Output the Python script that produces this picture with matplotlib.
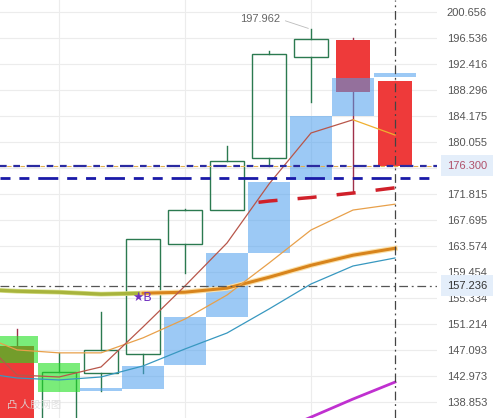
import numpy as np
import matplotlib
matplotlib.use("Agg")
import matplotlib.pyplot as plt
from matplotlib.patches import Rectangle
import matplotlib.patheffects as pe

plt.rcParams['font.family'] = ['Liberation Sans', 'DejaVu Sans']

# K线数据
idx = np.arange(10)
opens = [147.7, 133.0, 143.4, 146.4, 163.9, 169.2, 177.6, 193.5, 196.26, 189.7]
closes = [133.0, 143.6, 147.0, 164.6, 169.3, 177.1, 194.0, 196.4, 188.0, 176.3]
highs = [150.4, 146.6, 153.1, 164.7, 169.5, 179.5, 194.5, 197.962, 196.6, 189.7]
lows = [130.0, 130.0, 140.6, 143.4, 159.3, 169.2, 176.3, 186.4, 171.9, 176.3]

# 方块
box_lo = [144.99, 140.38, 140.6, 140.8, 144.7, 152.3, 162.4, 174.0, 184.2, 190.4]
box_hi = [149.3, 144.99, 141.0, 144.5, 152.3, 162.4, 173.7, 184.18, 190.2, 191.0]
box_kind = ['g', 'g', 'b', 'b', 'b', 'b', 'b', 'b', 'b', 'b']

# 均线
ma_x = np.arange(-1, 10)
ma5 = [149.75, 143.09, 142.77, 144.36, 150.71, 157.22, 164.04, 173.4, 181.5, 183.6, 181.18]
ma10 = [149.75, 147.07, 146.6, 146.6, 148.98, 151.97, 155.78, 160.86, 166.1, 169.27, 170.2]
ma20 = [143.56, 142.61, 142.3, 142.77, 144.52, 147.22, 149.75, 153.56, 157.53, 160.39, 161.66]
ma60 = [156.71, 156.39, 156.23, 155.92, 156.07, 156.23, 156.87, 158.6, 160.5, 162.1, 163.2]
mag_x = [6, 7, 8, 9]
mag = [133.6, 136.4, 139.27, 141.96]
red_x = [5.75, 6, 7, 8, 9]
red_y = [170.5, 170.7, 171.26, 171.97, 172.8]

price_now = 176.300
price_cross = 157.236
level_blue = 174.3
high_label = 197.962
tick_vals = [200.656, 196.536, 192.416, 188.296, 184.175, 180.055, 175.935, 171.815,
             167.695, 163.574, 159.454, 155.334, 151.214, 147.093, 142.973, 138.853]

fig = plt.figure(figsize=(4.93, 4.18), dpi=100)
ax = fig.add_axes([0, 0, 437 / 493, 1])
ax.set_xlim(-0.405, 10.0)
ax.set_ylim(136.26, 202.61)

# 网格
ax.set_xticks([1, 4, 7])
ax.set_yticks(tick_vals)
ax.set_yticklabels(['' if v == 175.935 else f"{v:.3f}" for v in tick_vals])
ax.yaxis.tick_right()
ax.tick_params(axis='y', length=0, pad=7, labelsize=8, labelcolor='#555555')
ax.tick_params(axis='x', length=0, labelbottom=False)
ax.grid(True, color='#ececec', lw=0.8)
ax.set_axisbelow(True)
for s in ax.spines.values():
    s.set_visible(False)

# K线
w = 0.83
for i in idx:
    o, c, h, l = opens[i], closes[i], highs[i], lows[i]
    top, bot = max(o, c), min(o, c)
    if c >= o:
        col = '#2b7a50'
        ax.plot([i, i], [top, h], color=col, lw=1, zorder=2)
        ax.plot([i, i], [l, bot], color=col, lw=1, zorder=2)
        ax.add_patch(Rectangle((i - w / 2, bot), w, top - bot, facecolor='none',
                               edgecolor=col, lw=1, zorder=2))
    else:
        ax.plot([i, i], [l, h], color='#a0304a', lw=1, zorder=2)
        ax.add_patch(Rectangle((i - w / 2, bot), w, top - bot, facecolor='#ee3a3a',
                               edgecolor='none', zorder=2))

# 方块
for i in idx:
    col = '#22e022' if box_kind[i] == 'g' else '#4b9eee'
    a = 0.6 if box_kind[i] == 'g' else 0.55
    ax.add_patch(Rectangle((i - 0.5, box_lo[i]), 1.0, box_hi[i] - box_lo[i],
                           facecolor=col, alpha=a, edgecolor='none', zorder=3))

# 均线
ax.plot(ma_x[:5], ma60[:5], color='#a8b43c', lw=2.4, zorder=4,
        path_effects=[pe.withStroke(linewidth=3.4, foreground='#d8e08a')])
ax.plot(ma_x[4:], ma60[4:], color='#d8841c', lw=2.2, zorder=4,
        path_effects=[pe.withStroke(linewidth=3.8, foreground='#fbe0a8')])
ax.plot(ma_x, ma20, color='#3898c0', lw=0.9, zorder=5)
ax.plot(ma_x, ma10, color='#e8a04a', lw=0.9, zorder=5)
ax.plot(ma_x[:-1], ma5[:-1], color='#b8564a', lw=0.9, zorder=5)
ax.plot(ma_x[-2:], ma5[-2:], color='#f0b030', lw=0.9, zorder=5)
ax.plot(mag_x, mag, color='#c030d0', lw=2, zorder=5)
ax.plot(red_x, red_y, color='#d0202a', lw=2.5, ls=(0, (5.5, 5.8)), zorder=5)

# 水平线
ax.axhline(price_now, color='#e0b050', lw=0.8, ls=(0, (4, 2)), zorder=5)
ax.axhline(price_now, color='#2a2aa0', lw=1.6, ls=(0, (3, 3, 3, 3, 6, 3)), zorder=6)
ax.axhline(level_blue, color='#1a1aa8', lw=2, ls=(0, (3.6, 3.2, 3.6, 3.2, 7.2, 3.2)), zorder=6)
ax.axhline(price_cross, color='#555555', lw=0.9, ls=(0, (7, 3, 1.5, 3)), zorder=6)
ax.axvline(9, color='#444444', lw=0.9, ls=(0, (7, 3, 1.5, 3)), zorder=6)

# 标注
ax.annotate(f"{high_label:.3f}", xy=(7, high_label), xytext=(6.26, 199.59),
            ha='right', va='center', fontsize=8, color='#666666',
            arrowprops=dict(arrowstyle='-', color='#bbbbbb', lw=0.6, relpos=(1, 0.5)))
ax.text(2.98, 155.46, "★B", ha='center', va='center', fontsize=9, color='#7030c0',
        family=['DejaVu Sans'], zorder=7)

# 右侧价格标签
ax.annotate(f"{price_now:.3f}", xy=(1.0, price_now), xycoords=('axes fraction', 'data'),
            xytext=(10, 0), textcoords='offset pixels', ha='left', va='center',
            fontsize=8, color='#b0506a', annotation_clip=False,
            bbox=dict(boxstyle='square,pad=0.5', facecolor='#e4eefa', edgecolor='none'))
ax.annotate(f"{price_cross:.3f}", xy=(1.0, price_cross), xycoords=('axes fraction', 'data'),
            xytext=(10, 0), textcoords='offset pixels', ha='left', va='center',
            fontsize=8, color='#333333', annotation_clip=False,
            bbox=dict(boxstyle='square,pad=0.5', facecolor='#e4eefa', edgecolor='none'))

# 水印
ax.text(0.015, 0.025, "凸 人股网图", transform=ax.transAxes, fontsize=7.5,
        color='#dddddd', alpha=0.9, family=['Noto Sans CJK SC', 'DejaVu Sans'], zorder=8)

fig.savefig("out.png", dpi=100)
